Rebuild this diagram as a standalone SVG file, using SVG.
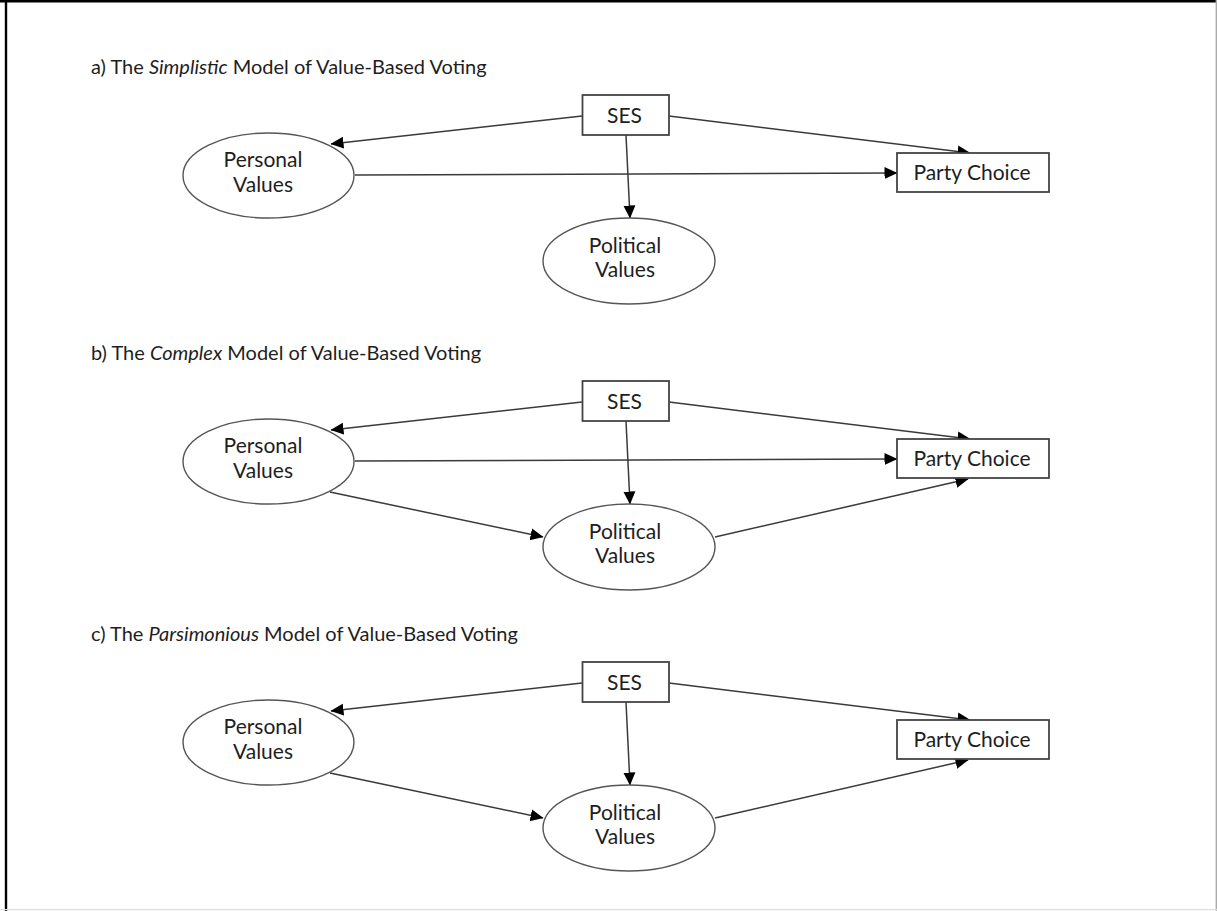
<svg xmlns="http://www.w3.org/2000/svg" width="1217" height="911" viewBox="0 0 1217 911">
<defs>
<style>
text{font-family:Lato,"Open Sans","Liberation Sans",sans-serif;fill:#1e1e1e;}
.t{font-size:20px;}
.n{font-size:21px;text-anchor:middle;}
.el{fill:#fff;stroke:#555;stroke-width:1.4;}
.bx{fill:#fff;stroke:#444;stroke-width:1.8;}
.ln{fill:none;stroke:#3a3a3a;stroke-width:1.5;marker-end:url(#ah);}
</style>
<marker id="ah" viewBox="0 0 13 13" refX="12.5" refY="6.5" markerWidth="13" markerHeight="13" markerUnits="userSpaceOnUse" orient="auto">
<path d="M0,0.5 L13,6.5 L0,12.5 z" fill="#000"/>
</marker>
</defs>
<rect x="0" y="0" width="1217" height="911" fill="#fff"/>
<line x1="0" y1="1.3" x2="1217" y2="1.3" stroke="#000" stroke-width="2.6"/>
<line x1="6" y1="0" x2="6" y2="911" stroke="#000" stroke-width="2.4"/>
<line x1="1216.3" y1="0" x2="1216.3" y2="911" stroke="#aaa" stroke-width="1.4"/>
<line x1="0" y1="909.6" x2="1217" y2="909.6" stroke="#ddd" stroke-width="1.4"/>

<!-- Panel a -->
<g id="title-a"><text class="t" x="91" y="74">a) The <tspan font-style="italic">Simplistic</tspan> Model of Value-Based Voting</text></g>
<g id="a-connectors">
<line class="ln" x1="582" y1="116" x2="331" y2="144"/>
<line class="ln" x1="669" y1="116" x2="970" y2="153"/>
<line class="ln" x1="626" y1="135" x2="630" y2="218"/>
<line class="ln" x1="355" y1="175" x2="897" y2="173"/>
</g>
<g id="a-ses"><rect class="bx" x="582.5" y="95" width="86.5" height="40"/><text class="n" x="624.5" y="123">SES</text></g>
<g id="a-personal"><ellipse class="el" cx="268.5" cy="175.5" rx="85.5" ry="42.5"/><text class="n" x="263" y="167">Personal</text><text class="n" x="263" y="192">Values</text></g>
<g id="a-political"><ellipse class="el" cx="629" cy="261" rx="86" ry="43"/><text class="n" x="625" y="253">Political</text><text class="n" x="625" y="277">Values</text></g>
<g id="a-party"><rect class="bx" x="897" y="153" width="152" height="39"/><text class="n" x="972" y="180">Party Choice</text></g>

<!-- Panel b -->
<g id="title-b"><text class="t" x="91" y="360">b) The <tspan font-style="italic">Complex</tspan> Model of Value-Based Voting</text></g>
<g id="b-connectors">
<line class="ln" x1="582" y1="402" x2="331" y2="430"/>
<line class="ln" x1="669" y1="402" x2="970" y2="439"/>
<line class="ln" x1="626" y1="421" x2="630" y2="504"/>
<line class="ln" x1="355" y1="461" x2="897" y2="459"/>
<line class="ln" x1="330" y1="492" x2="543" y2="537"/>
<line class="ln" x1="715" y1="537" x2="968" y2="479"/>
</g>
<g id="b-ses"><rect class="bx" x="582.5" y="381" width="86.5" height="40"/><text class="n" x="624.5" y="409">SES</text></g>
<g id="b-personal"><ellipse class="el" cx="268.5" cy="461.5" rx="85.5" ry="42.5"/><text class="n" x="263" y="453">Personal</text><text class="n" x="263" y="478">Values</text></g>
<g id="b-political"><ellipse class="el" cx="629" cy="547" rx="86" ry="43"/><text class="n" x="625" y="539">Political</text><text class="n" x="625" y="563">Values</text></g>
<g id="b-party"><rect class="bx" x="897" y="439" width="152" height="39"/><text class="n" x="972" y="466">Party Choice</text></g>

<!-- Panel c -->
<g id="title-c"><text class="t" x="91" y="641">c) The <tspan font-style="italic">Parsimonious</tspan> Model of Value-Based Voting</text></g>
<g id="c-connectors">
<line class="ln" x1="582" y1="683" x2="331" y2="711"/>
<line class="ln" x1="669" y1="683" x2="970" y2="720"/>
<line class="ln" x1="626" y1="702" x2="630" y2="785"/>
<line class="ln" x1="330" y1="773" x2="543" y2="818"/>
<line class="ln" x1="715" y1="818" x2="968" y2="760"/>
</g>
<g id="c-ses"><rect class="bx" x="582.5" y="662" width="86.5" height="40"/><text class="n" x="624.5" y="690">SES</text></g>
<g id="c-personal"><ellipse class="el" cx="268.5" cy="742.5" rx="85.5" ry="42.5"/><text class="n" x="263" y="734">Personal</text><text class="n" x="263" y="759">Values</text></g>
<g id="c-political"><ellipse class="el" cx="629" cy="828" rx="86" ry="43"/><text class="n" x="625" y="820">Political</text><text class="n" x="625" y="844">Values</text></g>
<g id="c-party"><rect class="bx" x="897" y="720" width="152" height="39"/><text class="n" x="972" y="747">Party Choice</text></g>
</svg>
